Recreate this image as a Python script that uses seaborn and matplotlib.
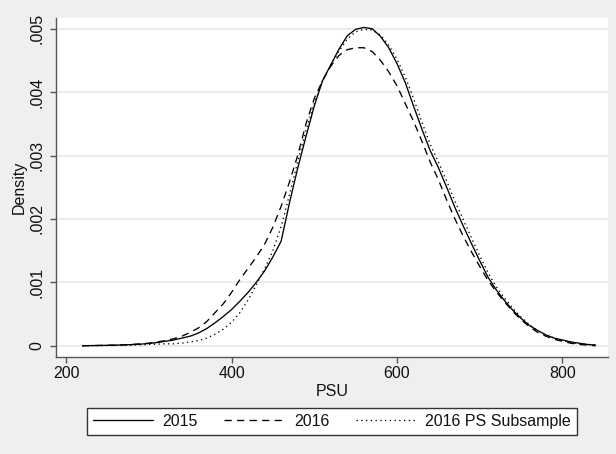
import matplotlib
matplotlib.use("Agg")
import matplotlib.pyplot as plt
import seaborn as sns
import pandas as pd
from matplotlib.lines import Line2D
from matplotlib.ticker import FuncFormatter

# ---- data ----
psu = list(range(220, 850, 10))

dens_2015 = [0.0, 0.000002, 0.000004, 0.000006, 0.000009, 0.000013, 0.000018, 0.000025,
             0.000035, 0.00005, 0.00007, 0.00009, 0.00012, 0.00015, 0.0002, 0.00027,
             0.00036, 0.00046, 0.00057, 0.0007, 0.00084, 0.001, 0.00118, 0.0014,
             0.00165, 0.00225, 0.0028, 0.0033, 0.00378, 0.00418, 0.00443, 0.00468,
             0.00489, 0.00499, 0.00502, 0.005, 0.00488, 0.0047, 0.00445, 0.00415,
             0.00378, 0.00342, 0.00308, 0.00281, 0.0025, 0.00218, 0.00189, 0.00161,
             0.00134, 0.00108, 0.00088, 0.00071, 0.00056, 0.00043, 0.00032, 0.00024,
             0.00017, 0.00012, 0.00009, 0.00006, 0.00004, 0.00002, 0.00001]

dens_2016 = [0.0, 0.000002, 0.000004, 0.000007, 0.00001, 0.000015, 0.00002, 0.00003,
             0.00004, 0.00006, 0.00008, 0.00011, 0.00015, 0.00021, 0.00028, 0.00038,
             0.00052, 0.00066, 0.00084, 0.00104, 0.00122, 0.0014, 0.0016, 0.00187,
             0.0022, 0.00258, 0.003, 0.0035, 0.0039, 0.00418, 0.00441, 0.00458,
             0.00467, 0.0047, 0.0047, 0.00464, 0.0045, 0.00432, 0.0041, 0.00382,
             0.00354, 0.00323, 0.0029, 0.00262, 0.0023, 0.002, 0.00173, 0.00148,
             0.00125, 0.00103, 0.00085, 0.00069, 0.00054, 0.00041, 0.0003, 0.00021,
             0.00015, 0.0001, 0.00007, 0.00004, 0.00002, 0.00001, 0.0]

dens_2016_ps = [0.0, 0.000001, 0.000002, 0.000003, 0.000005, 0.000007, 0.00001, 0.000014,
                0.00002, 0.000025, 0.00003, 0.00003, 0.00004, 0.00006, 0.00008, 0.00012,
                0.00018, 0.00026, 0.00037, 0.00052, 0.00072, 0.00096, 0.00121, 0.0015,
                0.00188, 0.00238, 0.0029, 0.0034, 0.00382, 0.00418, 0.00443, 0.00465,
                0.00484, 0.00495, 0.00499, 0.00498, 0.0049, 0.00474, 0.00452, 0.00424,
                0.0039, 0.00353, 0.00318, 0.0029, 0.0026, 0.00228, 0.00199, 0.0017,
                0.00142, 0.00115, 0.00093, 0.00075, 0.00059, 0.00045, 0.00033, 0.00024,
                0.00017, 0.00012, 0.00008, 0.00005, 0.00003, 0.00002, 0.00001]

series_names = ["2015", "2016", "2016 PS Subsample"]
x_ticks = [200, 400, 600, 800]
y_ticks = [0, 0.001, 0.002, 0.003, 0.004, 0.005]

# ---- styling ----
sns.set_theme(style="white")
plt.rcParams["font.family"] = ["Liberation Sans", "DejaVu Sans"]
FS = 11.5
plt.rcParams["font.size"] = FS

bg = "#efefef"
fig = plt.figure(figsize=(6.16, 4.54), dpi=100, facecolor=bg)
ax = fig.add_axes([56 / 616, (454 - 357) / 454, 552 / 616, 339 / 454])
ax.set_facecolor("white")

styles = {
    "2015": "-",
    "2016": (0, (5.5, 4.0)),
    "2016 PS Subsample": (0, (1.0, 2.6)),
}
lw = 0.95
for name, vals in zip(series_names, [dens_2015, dens_2016, dens_2016_ps]):
    df = pd.DataFrame({"PSU": psu, "Density": vals})
    sns.lineplot(data=df, x="PSU", y="Density", ax=ax, color="black",
                 linewidth=lw, linestyle=styles[name], label=None, legend=False)

ax.set_xlim(187.9, 855)
ax.set_ylim(-0.000178, 0.005169)
ax.set_xticks(x_ticks)
ax.set_yticks(y_ticks)
ax.yaxis.set_major_formatter(FuncFormatter(
    lambda v, p: "0" if abs(v) < 1e-12 else f"{v:.3f}".lstrip("0")))

ax.grid(axis="y", color="#e6e6e6", linewidth=1.1)
ax.grid(axis="x", visible=False)
ax.set_axisbelow(True)

for s in ["top", "right"]:
    ax.spines[s].set_visible(False)
for s in ["left", "bottom"]:
    ax.spines[s].set_color("#555555")
    ax.spines[s].set_linewidth(1.0)

ax.tick_params(axis="x", which="major", bottom=True, length=4, width=1.0,
               color="#555555", pad=2.5, labelsize=FS, labelcolor="#111111")
ax.tick_params(axis="y", which="major", left=True, length=4.5, width=1.0,
               color="#555555", pad=4, labelsize=FS, labelcolor="#111111",
               labelrotation=90)
for lab in ax.get_yticklabels():
    lab.set_verticalalignment("center")

ax.set_xlabel("PSU", fontsize=FS, labelpad=2.5, color="#111111")
ax.set_ylabel("Density", fontsize=FS, labelpad=1.5, color="#111111")

handles = [Line2D([], [], color="black", linewidth=lw, linestyle=styles[n])
           for n in series_names]
leg = fig.legend(handles, series_names, loc="upper center",
                 bbox_to_anchor=(332 / 616, 1 - 407.7 / 454),
                 bbox_transform=fig.transFigure, ncol=3, frameon=True,
                 fancybox=False, edgecolor="#333333", facecolor="white",
                 framealpha=1, fontsize=FS, handlelength=3.75,
                 handletextpad=0.6, columnspacing=1.65, borderpad=0.4,
                 borderaxespad=0)
leg.get_frame().set_linewidth(1.0)
for t in leg.get_texts():
    t.set_color("#111111")

fig.savefig("out.png", dpi=100, facecolor=bg)
